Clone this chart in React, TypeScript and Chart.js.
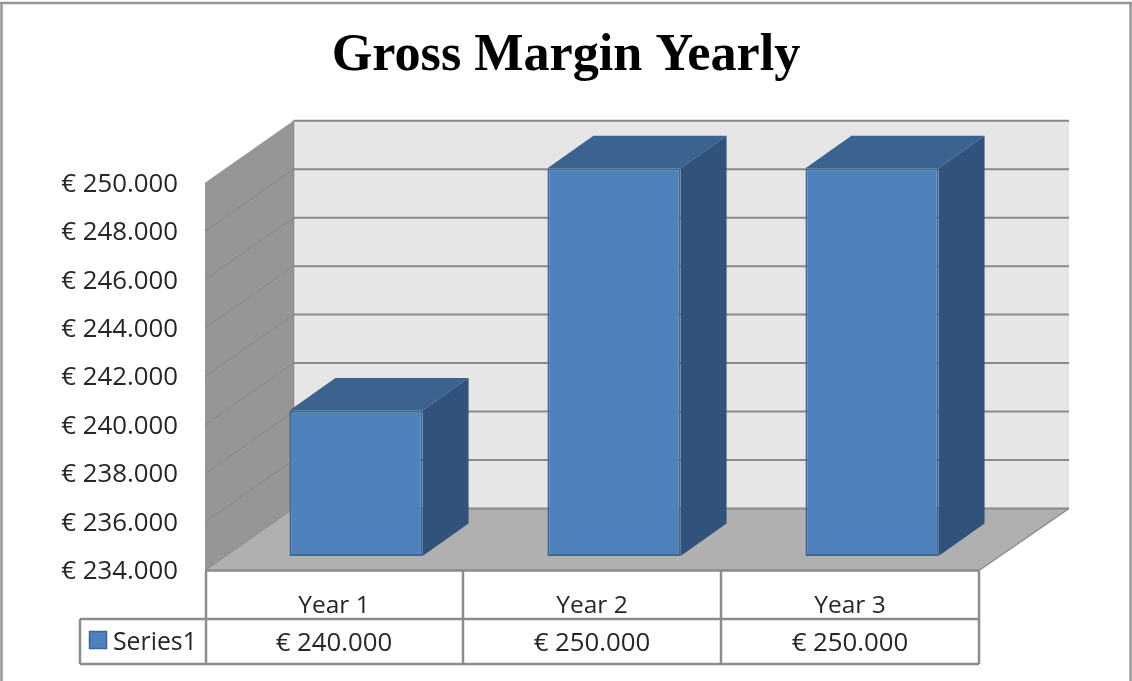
import React, { useEffect, useRef } from "react";
import { Chart, registerables } from "chart.js";

Chart.register(...registerables);

const chartTitle = "Gross Margin Yearly";
const categories = ["Year 1", "Year 2", "Year 3"];
const seriesName = "Series1";
const seriesValues = [240000, 250000, 250000];
const valueLabels = ["€ 240.000", "€ 250.000", "€ 250.000"];
const tickValues = [234000, 236000, 238000, 240000, 242000, 244000, 246000, 248000, 250000];
const tickLabels = ["€ 234.000", "€ 236.000", "€ 238.000", "€ 240.000", "€ 242.000", "€ 244.000", "€ 246.000", "€ 248.000", "€ 250.000"];

const FONT = '"Open Sans", sans-serif';
const TICK_SIZE = 25.8;
const LINE = "#8c8c8c";

// Projection of the box: offsets of the front and back planes from the bars' plane.
const FRONT = { dx: -22, dy: 14.5 };
const BACK = { dx: 66.5, dy: -47.5 };
const BAR_DEPTH = { dx: 46, dy: -32.5 };

function poly(ctx: CanvasRenderingContext2D, pts: number[][], fill: string) {
  ctx.beginPath();
  pts.forEach(([x, y], i) => (i ? ctx.lineTo(x, y) : ctx.moveTo(x, y)));
  ctx.closePath();
  ctx.fillStyle = fill;
  ctx.fill();
}

function seg(ctx: CanvasRenderingContext2D, x0: number, y0: number, x1: number, y1: number, color = LINE, w = 2) {
  ctx.beginPath();
  ctx.moveTo(x0, y0);
  ctx.lineTo(x1, y1);
  ctx.strokeStyle = color;
  ctx.lineWidth = w;
  ctx.stroke();
}

const box3d = {
  id: "box3d",
  beforeDatasetsDraw(chart: any) {
    const { ctx, chartArea: a, scales } = chart;
    const y = scales.y;
    const fl = a.left + FRONT.dx, fr = a.right + FRONT.dx;
    const bl = a.left + BACK.dx, br = a.right + BACK.dx + 1.5;
    const ft = a.top + FRONT.dy, fb = a.bottom + FRONT.dy;
    const bt = a.top + BACK.dy, bb = a.bottom + BACK.dy;
    ctx.save();
    // outer frame
    seg(ctx, 1.5, 681, 1.5, 3, "#969696", 2.5);
    seg(ctx, 0, 3, 1132, 3, "#969696", 2.5);
    seg(ctx, 1130.5, 3, 1130.5, 681, "#969696", 2.5);
    // walls and floor
    poly(ctx, [[bl, bt], [br, bt], [br, bb], [bl, bb]], "#e6e6e6");
    poly(ctx, [[fl, ft], [bl, bt], [bl, bb], [fl, fb]], "#969696");
    poly(ctx, [[fl, fb], [bl, bb], [br, bb], [fr, fb]], "#b0b0b0");
    for (const t of y.ticks) {
      const p = y.getPixelForValue(t.value);
      seg(ctx, bl, p + BACK.dy, br, p + BACK.dy, "#8a8a8a", 2);
      if (t.value < tickValues[tickValues.length - 1]) seg(ctx, fl, p + FRONT.dy, bl, p + BACK.dy, "#858585", 1);
    }
    seg(ctx, bl, bt, bl, bb, "#8a8a8a", 1.5);
    seg(ctx, fr, fb, br, bb, "#8a8a8a", 1.5);
    // bar side and top faces
    for (const bar of chart.getDatasetMeta(0).data) {
      const hw = bar.width / 2;
      const x0 = bar.x - hw, x1 = bar.x + hw;
      const { dx, dy } = BAR_DEPTH;
      poly(ctx, [[x0, bar.y], [x0 + dx, bar.y + dy], [x1 + dx, bar.y + dy], [x1, bar.y]], "#3c6290");
      poly(ctx, [[x1, bar.y], [x1 + dx, bar.y + dy], [x1 + dx, bar.base + dy], [x1, bar.base]], "#30527b");
    }
    ctx.restore();
  },
  afterDatasetsDraw(chart: any) {
    const { ctx, chartArea: a, scales } = chart;
    const x = scales.x;
    const top = a.bottom + FRONT.dy;
    const mid = 619, bottom = 664, keyLeft = 80;
    const half = (x.getPixelForValue(1) - x.getPixelForValue(0)) / 2;
    const cellEdge = (i: number) => x.getPixelForValue(i) + FRONT.dx - half + (i === 0 ? 1 : 0);
    const left = cellEdge(0);
    const right = cellEdge(categories.length);
    ctx.save();
    // data table
    seg(ctx, left - 1, top, right, top, "#8a8a8a", 2.5);
    seg(ctx, keyLeft, mid, right, mid, LINE, 2.5);
    seg(ctx, keyLeft, bottom, right, bottom, LINE, 2.5);
    seg(ctx, keyLeft, mid, keyLeft, bottom, LINE, 2.5);
    for (let i = 0; i <= categories.length; i++) seg(ctx, cellEdge(i), top, cellEdge(i), bottom, LINE, 2.5);
    ctx.fillStyle = "#262626";
    ctx.font = `${TICK_SIZE}px ${FONT}`;
    ctx.textAlign = "center";
    ctx.textBaseline = "middle";
    valueLabels.forEach((s, i) => ctx.fillText(s, x.getPixelForValue(i) + FRONT.dx, 644));
    ctx.textAlign = "left";
    ctx.font = `24.8px ${FONT}`;
    ctx.fillText(seriesName, 113, 642.5);
    ctx.fillStyle = "#4f81bd";
    ctx.strokeStyle = "#38659a";
    ctx.lineWidth = 1.5;
    ctx.fillRect(89.5, 631.5, 17, 17);
    ctx.strokeRect(89.5, 631.5, 17, 17);
    ctx.restore();
  },
};

export default function App() {
  const ref = useRef<HTMLCanvasElement>(null);
  useEffect(() => {
    document.body.style.margin = "0";
    const chart = new Chart(ref.current!, {
      type: "bar",
      data: {
        labels: categories,
        datasets: [
          {
            label: seriesName,
            data: seriesValues,
            base: tickValues[0],
            backgroundColor: "#4f81bd",
            borderColor: "#3a679d",
            borderWidth: 2,
            borderSkipped: false,
            barPercentage: 0.516,
            categoryPercentage: 1,
          },
        ],
      },
      options: {
        responsive: false,
        animation: false,
        plugins: {
          legend: { display: false },
          tooltip: { enabled: false },
          title: {
            display: true,
            text: chartTitle,
            color: "#000000",
            font: { family: '"Liberation Serif", serif', size: 52.2, weight: "bold", lineHeight: 1 },
            padding: { top: 30, bottom: 86 },
          },
        },
        scales: {
          x: {
            grid: { display: false, drawTicks: false },
            border: { display: false },
            afterFit: (s: any) => { s.height = 125; },
            ticks: {
              color: "#262626",
              font: { family: FONT, size: 24.5 },
              padding: 35,
              labelOffset: FRONT.dx,
              autoSkip: false,
              maxRotation: 0,
            },
          },
          y: {
            min: tickValues[0],
            max: tickValues[tickValues.length - 1],
            grid: { display: false, drawTicks: false },
            border: { display: false },
            afterFit: (s: any) => { s.width = 227; },
            ticks: {
              stepSize: tickValues[1] - tickValues[0],
              color: "#262626",
              font: { family: FONT, size: TICK_SIZE },
              padding: 49,
              labelOffset: FRONT.dy + 1.5,
              callback: (v: any) => tickLabels[tickValues.indexOf(Number(v))],
            },
          },
          spacer: {
            type: "linear",
            position: "right",
            grid: { display: false, drawTicks: false },
            border: { display: false },
            ticks: { display: false },
            afterFit: (s: any) => { s.width = 131; },
          },
        },
      },
      plugins: [box3d],
    } as any);
    return () => chart.destroy();
  }, []);
  return (
    <canvas
      ref={ref}
      width={1132}
      height={681}
      style={{ display: "block", position: "absolute", left: 0, top: 0, filter: "blur(0.6px)" }}
    />
  );
}
